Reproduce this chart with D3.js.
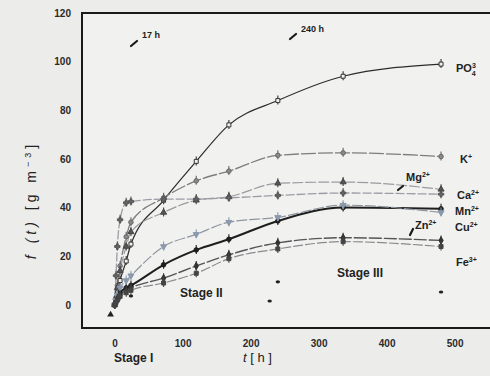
<!DOCTYPE html>
<html>
<head>
<meta charset="utf-8">
<script src="https://cdn.jsdelivr.net/npm/d3@7"></script>
<style>
  html, body { margin: 0; padding: 0; background: #ececea; }
  svg { display: block; font-family: "Liberation Sans", Arial, sans-serif; }
</style>
</head>
<body>
<svg id="chart" width="490" height="376"></svg>
<script>
// Leaching time (h) of each sampling
const times = [0, 2, 4, 8, 17, 24, 72, 120, 168, 240, 336, 480];

// Released concentration f(t) in g m^-3 for each ion
const po4 = [0, 2, 5, 10, 18, 25, 43, 59, 74, 84, 94, 99];
const kIon = [0, 3, 8, 16, 28, 34, 44, 51, 55, 61.5, 62.5, 61];
const mg = [0, 3, 7, 14, 24, 30, 38, 43, 44.5, 50, 50.5, 47.5];
const ca = [0, 12, 24, 35, 42, 42.5, 43.5, 43.5, 44, 45, 46, 45.5];
const mn = [0, 1.5, 3, 5, 7, 8, 16.5, 22.6, 27, 34.5, 40, 39.5];
const cu = [0, 2, 4, 7, 10, 12, 24, 29, 34, 36, 41, 38];
const zn = [0, 1, 2.5, 4, 6, 7, 11, 16, 20.6, 25.5, 27.6, 26.5];
const fe = [0, 1, 2, 3.5, 5, 6, 9, 13, 19, 23, 26, 24];

// Isolated low readings
const lowTimes = [24, 228, 240, 480];
const lowValues = [3.7, 1.6, 9.5, 5.3];

const xTicks = [0, 100, 200, 300, 400, 500];
const yTicks = [0, 20, 40, 60, 80, 100, 120];

const svg = d3.select("#chart");
const box = { left: 82, top: 13, right: 490, bottom: 328 };

const x = d3.scaleLinear().domain([-48, 552]).range([box.left, box.right]);
const y = d3.scaleLinear().domain([-9.5, 120]).range([box.bottom, box.top]);

// series styling
const series = [
  { name: "PO4", values: po4, color: "#2c2c2c", width: 1.2, dash: null, symbol: d3.symbolSquare, fill: "none", mcolor: "#333" },
  { name: "K", values: kIon, color: "#7d7d80", width: 1.3, dash: "14,3", symbol: d3.symbolCircle, fill: "#8a8a8a", mcolor: "#666" },
  { name: "Mg", values: mg, color: "#9a9aa2", width: 1.2, dash: "10,3", symbol: d3.symbolTriangle, fill: "#555", mcolor: "#444" },
  { name: "Ca", values: ca, color: "#9c9ca6", width: 1.3, dash: "8,3", symbol: d3.symbolCross, fill: "#666", mcolor: "#555" },
  { name: "Mn", values: mn, color: "#1e1e1e", width: 2.0, dash: null, symbol: d3.symbolCircle, fill: "#1e1e1e", mcolor: "#1e1e1e" },
  { name: "Cu", values: cu, color: "#8f95a0", width: 1.2, dash: "10,3", symbol: d3.symbolTriangle, fill: "#8b98ad", mcolor: "#8b98ad", flip: true },
  { name: "Zn", values: zn, color: "#555558", width: 1.4, dash: "12,3", symbol: d3.symbolDiamond, fill: "#333", mcolor: "#333" },
  { name: "Fe", values: fe, color: "#8a8a90", width: 1.2, dash: "9,3", symbol: d3.symbolSquare, fill: "#444", mcolor: "#444" }
];

const g = svg.append("g");

// plot frame
g.append("rect")
  .attr("x", box.left).attr("y", box.top)
  .attr("width", box.right - box.left + 4).attr("height", box.bottom - box.top)
  .attr("fill", "#f1f1ef").attr("stroke", "#1a1a1a").attr("stroke-width", 2);

// axes
const yAxis = g.append("g")
  .attr("transform", `translate(${box.left},0)`)
  .call(d3.axisLeft(y).tickValues(yTicks).tickSize(0).tickPadding(11));
const xAxis = g.append("g")
  .attr("transform", `translate(0,${box.bottom})`)
  .call(d3.axisBottom(x).tickValues(xTicks).tickSize(0).tickPadding(12));
[yAxis, xAxis].forEach(a => {
  a.select(".domain").remove();
  a.selectAll("text").attr("font-size", 10).attr("font-weight", "bold").attr("fill", "#2a2a2a");
});

// curves
const line = d3.line()
  .x((d, i) => x(times[i]))
  .y(d => y(d))
  .curve(d3.curveMonotoneX);

const curves = g.append("g");
series.forEach(s => {
  curves.append("path")
    .attr("d", line(s.values))
    .attr("fill", "none")
    .attr("stroke", s.color)
    .attr("stroke-width", s.width)
    .attr("stroke-dasharray", s.dash)
    .attr("stroke-linecap", "round");
});

// markers
const marks = g.append("g");
series.forEach(s => {
  const sym = d3.symbol().type(s.symbol).size(16);
  s.values.forEach((v, i) => {
    const gx = x(times[i]), gy = y(v);
    const m = marks.append("g").attr("transform", `translate(${gx},${gy})`);
    m.append("line")
      .attr("x1", 0).attr("x2", 0).attr("y1", -5).attr("y2", 4)
      .attr("stroke", s.mcolor).attr("stroke-width", 1.1);
    m.append("path")
      .attr("d", sym())
      .attr("transform", s.flip ? "rotate(180)" : null)
      .attr("fill", s.fill === "none" ? "#f1f1ef" : s.fill)
      .attr("stroke", s.mcolor)
      .attr("stroke-width", 1);
  });
});

// low isolated readings
lowTimes.forEach((t, i) => {
  marks.append("ellipse")
    .attr("cx", x(t)).attr("cy", y(lowValues[i]))
    .attr("rx", 2.2).attr("ry", 1.6)
    .attr("fill", "#222");
});

// stage I marker below origin
marks.append("path")
  .attr("d", d3.symbol().type(d3.symbolTriangle).size(20)())
  .attr("transform", `translate(${x(-6)},${y(-4)})`)
  .attr("fill", "#222");

// text annotations
const txt = g.append("g").attr("fill", "#222").attr("font-weight", "bold");

function label(tx, ty, parts, size) {
  const t = txt.append("text").attr("x", tx).attr("y", ty).attr("font-size", size || 11);
  parts.forEach(p => {
    const sp = t.append("tspan").text(p.t);
    if (p.sup) sp.attr("font-size", 7).attr("dy", -4);
    if (p.sub) sp.attr("font-size", 7).attr("dy", p.dy || 3).attr("dx", p.dx || 0);
  });
  return t;
}

label(456, 72, [{ t: "PO" }, { t: "3", sup: true }, { t: "4", sub: true, dx: -4, dy: 8 }]);
label(460, 163, [{ t: "K" }, { t: "+", sup: true }]);
label(406, 181, [{ t: "Mg" }, { t: "2+", sup: true }]);
label(457, 199, [{ t: "Ca" }, { t: "2+", sup: true }]);
label(455, 215, [{ t: "Mn" }, { t: "2+", sup: true }]);
label(455, 231, [{ t: "Cu" }, { t: "2+", sup: true }]);
label(415, 229, [{ t: "Zn" }, { t: "2+", sup: true }]);
label(456, 266, [{ t: "Fe" }, { t: "3+", sup: true }]);

txt.append("text").attr("x", 180).attr("y", 297).attr("font-size", 12).text("Stage II");
txt.append("text").attr("x", 337).attr("y", 277).attr("font-size", 12).text("Stage III");
txt.append("text").attr("x", 114).attr("y", 362).attr("font-size", 12).text("Stage I");
txt.append("text").attr("x", 142).attr("y", 38).attr("font-size", 9).text("17 h");
txt.append("text").attr("x", 301).attr("y", 32).attr("font-size", 9).text("240 h");

// small pointer strokes
const pointers = [
  [131, 46, 137, 41], [290, 39, 296, 34],
  [398, 190, 403, 186], [410, 235, 413, 229]
];
pointers.forEach(p => {
  txt.append("line")
    .attr("x1", p[0]).attr("y1", p[1]).attr("x2", p[2]).attr("y2", p[3])
    .attr("stroke", "#1a1a1a").attr("stroke-width", 2.2).attr("stroke-linecap", "round");
});

// axis titles
const xt = txt.append("text").attr("x", 243).attr("y", 362).attr("font-size", 13).attr("font-weight", "normal");
xt.append("tspan").attr("font-style", "italic").text("t");
xt.append("tspan").text("   [ h ]");

const yt = txt.append("text")
  .attr("transform", "translate(36,200) rotate(-90)")
  .attr("text-anchor", "middle")
  .attr("letter-spacing", 4)
  .attr("font-size", 14).attr("font-weight", "normal");
yt.append("tspan").attr("font-style", "italic").text("f (t)");
yt.append("tspan").text("   [g m");
yt.append("tspan").attr("font-size", 9).attr("dy", -5).text("−3");
yt.append("tspan").attr("dy", 5).text("]");
</script>
</body>
</html>
